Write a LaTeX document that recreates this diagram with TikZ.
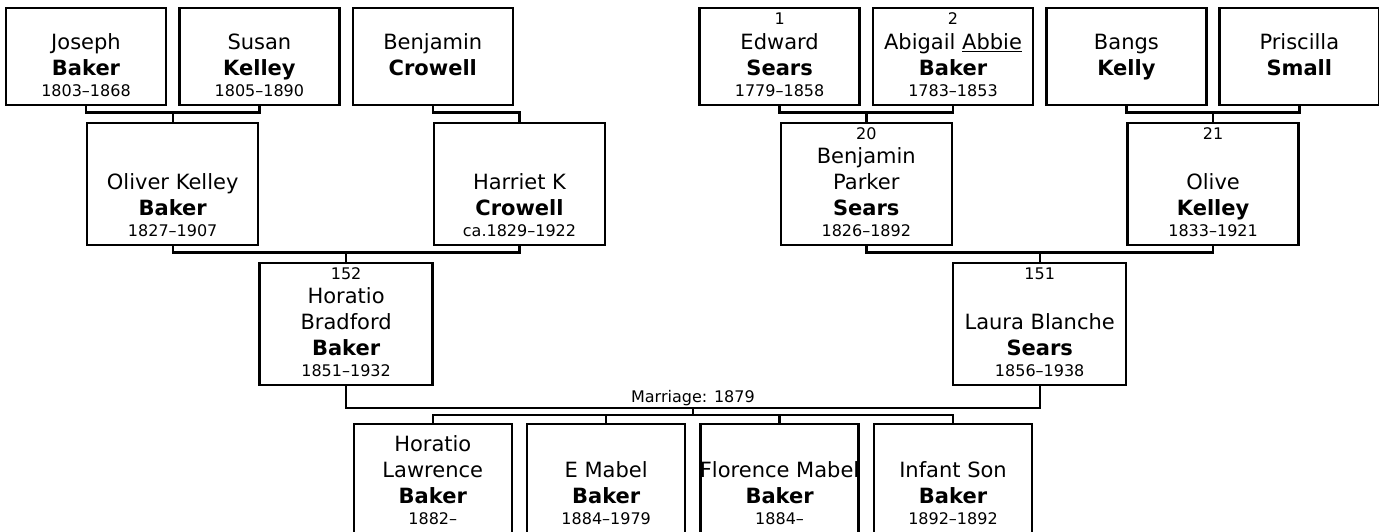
\documentclass[tikz,border=0pt]{standalone}
\usepackage{fontspec}
\setmainfont{DejaVu Sans}
\usetikzlibrary{positioning,calc}

\newlength\boxw
\newlength\boxh
\newcommand\mainf{\fontsize{21}{24}\selectfont}
\newcommand\smallf{\fontsize{16}{18}\selectfont}
% one text line of fixed height and depth
\newcommand\pline[3]{\hbox to\hsize{\hss\vrule height#1pt depth#2pt width0pt\relax #3\hss}}
\newcommand\pskip[2]{\if\relax\detokenize{#1}\relax\else#2\fi}
% number, given name 1, given name 2, surname, dates
\newcommand\pers[5]{\vbox to\boxh{\hsize=\boxw \offinterlineskip
  \pskip{#1}{\pline{16}{5}{\smallf #1}}\vfill
  \pskip{#2}{\pline{15}{10}{#2}}%
  \pline{15}{10}{#3}%
  \pline{16}{9}{\bfseries #4}%
  \pline{12}{9}{\smallf #5}\kern0pt}}

\begin{document}
\begin{tikzpicture}[
    x=1pt, y=-1pt,
    % Node styles
    person/.style={draw, rectangle, line width=2.4pt, inner sep=0pt, outer sep=0pt, font=\mainf},
    topgen/.style={person, execute at begin node={\setlength\boxw{160pt}\setlength\boxh{97pt}}},
    midgen/.style={person, execute at begin node={\setlength\boxw{171pt}\setlength\boxh{122pt}}},
    lowgen/.style={person, execute at begin node={\setlength\boxw{173pt}\setlength\boxh{122pt}}},
    kidgen/.style={person, execute at begin node={\setlength\boxw{158pt}\setlength\boxh{109pt}}},
    link/.style={draw, line width=2.4pt},
    marriage/.style={font=\smallf, inner sep=0pt},
]
\useasboundingbox (0,0) rectangle (1379,531);
\clip (0,0) rectangle (1379,531);

% ============================================================
% Great-grandparents
% ============================================================
\node[topgen] (joseph)   at (86,56.5)     {\pers{}{}{Joseph}{Baker}{1803–1868}};
\node[topgen] (susan)    at (259.4,56.5)  {\pers{}{}{Susan}{Kelley}{1805–1890}};
\node[topgen] (bcrowell) at (432.8,56.5)  {\pers{}{}{Benjamin}{Crowell}{}};
\node[topgen] (edward)   at (779.6,56.5)  {\pers{1}{}{Edward}{Sears}{1779–1858}};
\node[topgen] (abigail)  at (953,56.5)    {\pers{2}{}{Abigail \underline{Abbie}}{Baker}{1783–1853}};
\node[topgen] (bangs)    at (1126.4,56.5) {\pers{}{}{Bangs}{Kelly}{}};
\node[topgen] (priscilla) at (1299.3,56.5) {\pers{}{}{Priscilla}{Small}{}};

% ============================================================
% Grandparents
% ============================================================
\node[midgen] (oliver)  at (172.7,184)  {\pers{}{}{Oliver Kelley}{Baker}{1827–1907}};
\node[midgen] (harriet) at (519.5,184)  {\pers{}{}{Harriet K}{Crowell}{ca.1829–1922}};
\node[midgen] (bsears)  at (866.3,184)  {\pers{20}{Benjamin}{Parker}{Sears}{1826–1892}};
\node[midgen] (olive)   at (1213.1,184) {\pers{21}{}{Olive}{Kelley}{1833–1921}};

% ============================================================
% Parents
% ============================================================
\node[lowgen] (horatio) at (346.1,324)  {\pers{152}{Horatio}{Bradford}{Baker}{1851–1932}};
\node[lowgen] (laura)   at (1039.7,324) {\pers{151}{}{Laura Blanche}{Sears}{1856–1938}};

% ============================================================
% Children
% ============================================================
\node[kidgen] (kid1) at (432.8,478.5) {\pers{}{Horatio}{Lawrence}{Baker}{1882–}};
\node[kidgen] (kid2) at (606.2,478.5) {\pers{}{}{E Mabel}{Baker}{1884–1979}};
\node[kidgen] (kid3) at (779.6,478.5) {\pers{}{}{Florence Mabel}{Baker}{1884–}};
\node[kidgen] (kid4) at (953,478.5)   {\pers{}{}{Infant Son}{Baker}{1892–1892}};

% ============================================================
% Links
% ============================================================
\draw[link] (joseph.south) -- ++(0,7.5) -| (susan.south);
\draw[link] (oliver.north) -- ++(0,-10.5);
\draw[link] (bcrowell.south) -- ++(0,7.5) -| (harriet.north);
\draw[link] (edward.south) -- ++(0,7.5) -| (abigail.south);
\draw[link] (bsears.north) -- ++(0,-10.5);
\draw[link] (bangs.south) -- ++(0,7.5) -| (priscilla.south);
\draw[link] (olive.north) -- ++(0,-10.5);

\draw[link] (oliver.south) -- ++(0,7.5) -| (harriet.south);
\draw[link] (horatio.north) -- ++(0,-10.5);
\draw[link] (bsears.south) -- ++(0,7.5) -| (olive.south);
\draw[link] (laura.north) -- ++(0,-10.5);

\draw[link] (horatio.south) -- ++(0,23) -| (laura.south)
  node[marriage, pos=0.25, above=1pt] {Marriage: 1879}
  coordinate[pos=0.25] (wed);
\draw[link] (wed) -- ++(0,7);
\draw[link] (kid1.north) -- ++(0,-9) -| (kid4.north);
\draw[link] (kid2.north) -- ++(0,-9);
\draw[link] (kid3.north) -- ++(0,-9);

\end{tikzpicture}
\end{document}
